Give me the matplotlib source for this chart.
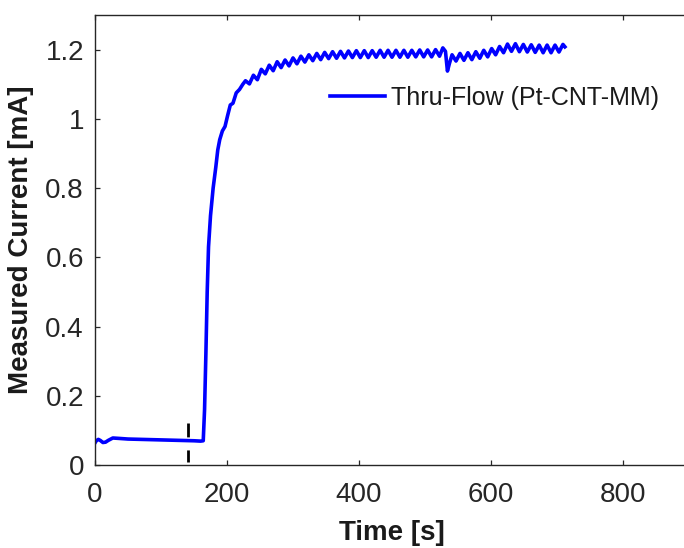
import matplotlib
matplotlib.use("Agg")
import matplotlib.pyplot as plt

plt.rcParams['font.family'] = ['Liberation Sans', 'DejaVu Sans']

# ---- data ----
time_s = [0, 2, 5, 8, 12, 16, 20, 27, 35, 50, 70, 90, 110, 130, 150, 160, 164,
          166, 168, 170, 172, 175, 179, 183, 186, 189, 193, 197, 201, 205, 209,
          214, 219, 224, 228,
          234, 240, 246, 252, 258, 264, 270, 276, 282, 288, 294, 300, 306, 312,
          318, 324, 330, 336, 342, 348, 354, 360, 366, 372, 378, 384, 390, 396,
          402, 408, 414, 420, 426, 432, 438, 444, 450, 456, 462, 468, 474, 480,
          486, 492, 498, 504, 510, 516, 522, 527, 531, 534, 537, 541, 547, 553,
          559, 565, 571, 577, 583, 589, 595, 601, 607, 613, 619, 625, 631, 637,
          643, 649, 655, 661, 667, 673, 679, 685, 691, 697, 703, 709, 712]
current_mA = [0.064, 0.070, 0.074, 0.071, 0.065, 0.066, 0.071, 0.078, 0.077, 0.075,
              0.074, 0.073, 0.072, 0.071, 0.070, 0.069, 0.070,
              0.16, 0.32, 0.50, 0.63, 0.72, 0.80, 0.86, 0.91, 0.94, 0.965, 0.978,
              1.01, 1.04, 1.045, 1.075, 1.085, 1.10, 1.11,
              1.101, 1.126, 1.113, 1.143, 1.130, 1.155, 1.139, 1.165, 1.148, 1.170,
              1.153, 1.176, 1.159, 1.181, 1.164, 1.185, 1.168, 1.189, 1.171, 1.192,
              1.174, 1.194, 1.175, 1.195, 1.176, 1.196, 1.177, 1.197, 1.177, 1.197,
              1.177, 1.197, 1.178, 1.198, 1.178, 1.198, 1.178, 1.198, 1.178, 1.198,
              1.178, 1.198, 1.179, 1.199, 1.179, 1.199, 1.179, 1.200, 1.181, 1.205,
              1.195, 1.138, 1.160, 1.185, 1.167, 1.189, 1.169, 1.191, 1.171, 1.194,
              1.175, 1.198, 1.179, 1.203, 1.185, 1.209, 1.191, 1.216, 1.195, 1.217,
              1.194, 1.215, 1.193, 1.214, 1.192, 1.213, 1.191, 1.213, 1.191, 1.213,
              1.193, 1.215, 1.208]
series_label = "Thru-Flow (Pt-CNT-MM)"
marker_time = [141, 141]
marker_current = [0.12, 0.01]
x_ticks = [0, 200, 400, 600, 800]
y_ticks = [0, 0.2, 0.4, 0.6, 0.8, 1.0, 1.2]
y_ticklabels = ["0", "0.2", "0.4", "0.6", "0.8", "1", "1.2"]

fig = plt.figure(figsize=(6.84, 5.48), dpi=100)
ax = fig.add_axes([95/684, (548-465)/548, 594/684, 450/548])

ax.plot(time_s, current_mA, color='#0000ff', lw=2.6, label=series_label,
        solid_joinstyle='round')
ax.plot(marker_time, marker_current, color='black', lw=2.0,
        linestyle=(0, (5, 4.7)))

ax.set_xlim(0, 900)
ax.set_ylim(0, 1.3)
ax.set_xticks(x_ticks)
ax.set_yticks(y_ticks)
ax.set_yticklabels(y_ticklabels)

edge = '#262626'
for sp in ax.spines.values():
    sp.set_color(edge)
    sp.set_linewidth(1.0)
ax.tick_params(direction='in', length=3.6, width=0.9, top=True, right=True,
               color=edge, labelcolor=edge, labelsize=20)
ax.tick_params(axis='x', pad=12)
ax.tick_params(axis='y', pad=8)

ax.set_xlabel("Time [s]", fontsize=20, fontweight='bold', color='#1a1a1a')
ax.set_ylabel("Measured Current [mA]", fontsize=20, fontweight='bold', color='#1a1a1a')
ax.xaxis.set_label_coords(0.5, -0.122)
ax.yaxis.set_label_coords(-0.102, 0.5)

leg = ax.legend(loc='center left', bbox_to_anchor=(0.3956, 0.8156), frameon=False,
                fontsize=18, handlelength=2.2, handletextpad=0.25, borderpad=0,
                borderaxespad=0)
for t in leg.get_texts():
    t.set_color('#1a1a1a')

fig.savefig("out.png", dpi=100)
